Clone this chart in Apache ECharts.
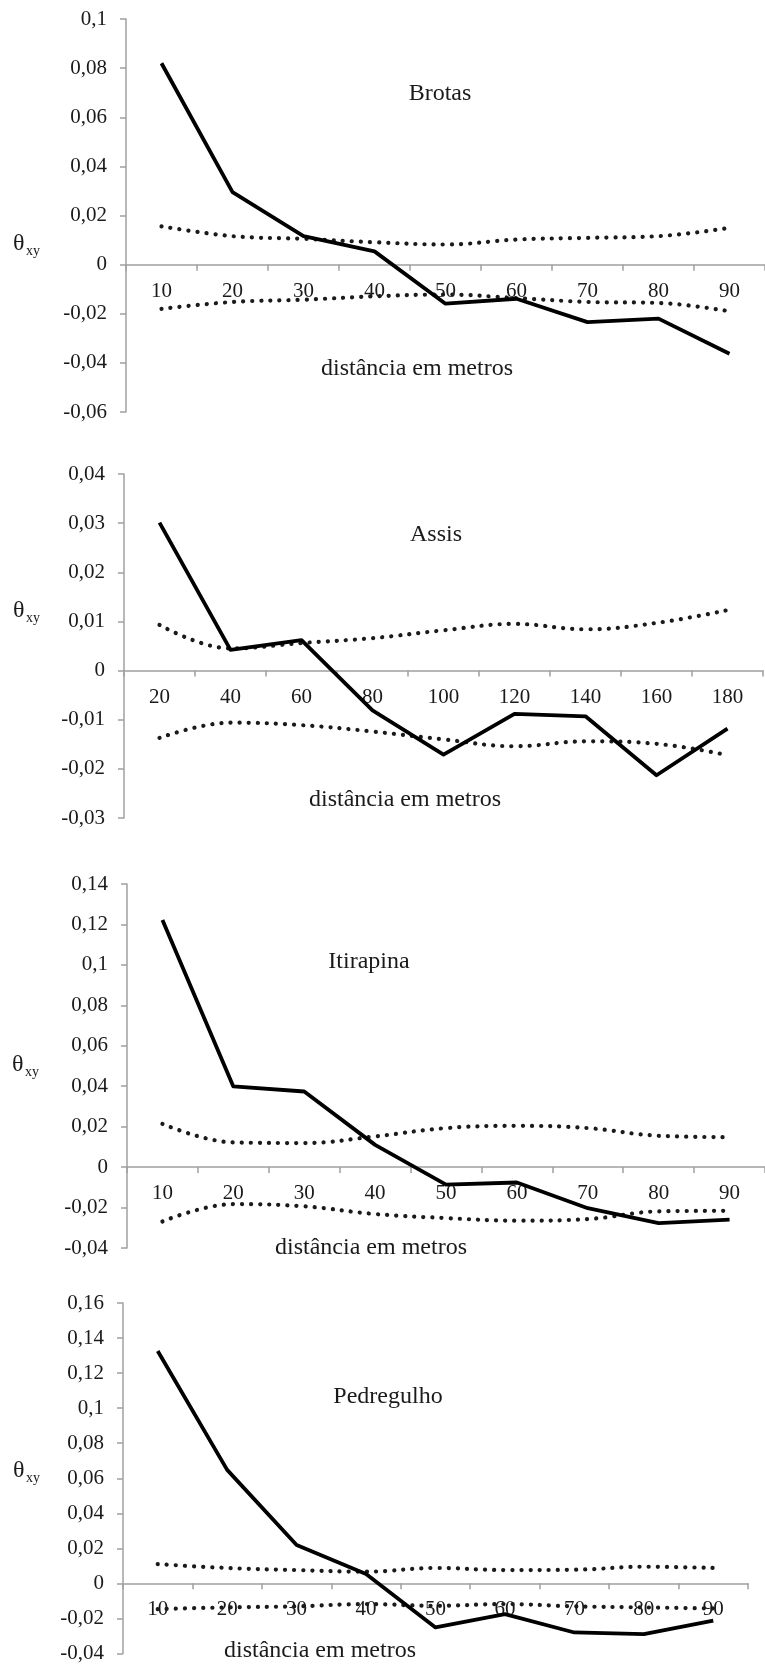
<!DOCTYPE html>
<html>
<head>
<meta charset="utf-8">
<script src="https://cdn.jsdelivr.net/npm/echarts@6/dist/echarts.min.js"></script>
<style>
  html, body { margin: 0; padding: 0; background: #fff; }
  #chart { width: 765px; height: 1664px; }
</style>
</head>
<body>
<div id="chart"></div>
<script>
// Distance classes (metres) for each site
const distBrotas = ['10', '20', '30', '40', '50', '60', '70', '80', '90'];
const distAssis = ['20', '40', '60', '80', '100', '120', '140', '160', '180'];
const distItirapina = ['10', '20', '30', '40', '50', '60', '70', '80', '90'];
const distPedregulho = ['10', '20', '30', '40', '50', '60', '70', '80', '90'];

// Kinship coefficient θxy per distance class, with upper / lower confidence limits
const thetaBrotas = [0.082, 0.0295, 0.0116, 0.0054, -0.0159, -0.0139, -0.0234, -0.0220, -0.0363];
const upperBrotas = [0.0156, 0.0116, 0.0105, 0.0091, 0.0082, 0.0102, 0.0109, 0.0116, 0.0150];
const lowerBrotas = [-0.0180, -0.0152, -0.0143, -0.0129, -0.0122, -0.0136, -0.0152, -0.0156, -0.0190];

const thetaAssis = [0.0301, 0.0042, 0.0062, -0.0081, -0.0171, -0.0088, -0.0093, -0.0213, -0.0118];
const upperAssis = [0.0093, 0.0045, 0.0056, 0.0066, 0.0082, 0.0095, 0.0084, 0.0097, 0.0123];
const lowerAssis = [-0.0137, -0.0106, -0.0111, -0.0124, -0.0140, -0.0154, -0.0144, -0.0149, -0.0172];

const thetaItirapina = [0.1222, 0.0399, 0.0374, 0.0110, -0.0087, -0.0076, -0.0203, -0.0277, -0.0260];
const upperItirapina = [0.0214, 0.0122, 0.0119, 0.0152, 0.0193, 0.0204, 0.0193, 0.0155, 0.0148];
const lowerItirapina = [-0.0269, -0.0183, -0.0194, -0.0232, -0.0252, -0.0265, -0.0257, -0.0219, -0.0216];

const thetaPedregulho = [0.1326, 0.0648, 0.0219, 0.0053, -0.0251, -0.0175, -0.0280, -0.0290, -0.0213];
const upperPedregulho = [0.0110, 0.0088, 0.0076, 0.0067, 0.0088, 0.0076, 0.0078, 0.0095, 0.0088];
const lowerPedregulho = [-0.0147, -0.0137, -0.0131, -0.0118, -0.0128, -0.0118, -0.0131, -0.0137, -0.0143];

// Value-axis ranges
const yMinBrotas = -0.06, yMaxBrotas = 0.1, yStepBrotas = 0.02;
const yMinAssis = -0.03, yMaxAssis = 0.04, yStepAssis = 0.01;
const yMinItirapina = -0.04, yMaxItirapina = 0.14, yStepItirapina = 0.02;
const yMinPedregulho = -0.04, yMaxPedregulho = 0.16, yStepPedregulho = 0.02;

const SERIF = '"Liberation Serif", "Times New Roman", serif';
const AXIS_GREY = '#a0a0a0';
const INK = '#1a1a1a';

const panels = [
  { name: 'Brotas', cats: distBrotas, theta: thetaBrotas, up: upperBrotas, lo: lowerBrotas,
    min: yMinBrotas, max: yMaxBrotas, step: yStepBrotas,
    grid: { left: 126, top: 19, width: 648, height: 393 },
    titleAt: [440, 94], xNameAt: [417, 369], symAt: [13, 246] },
  { name: 'Assis', cats: distAssis, theta: thetaAssis, up: upperAssis, lo: lowerAssis,
    min: yMinAssis, max: yMaxAssis, step: yStepAssis,
    grid: { left: 124, top: 474, width: 639, height: 344 },
    titleAt: [436, 535], xNameAt: [405, 800], symAt: [13, 613] },
  { name: 'Itirapina', cats: distItirapina, theta: thetaItirapina, up: upperItirapina, lo: lowerItirapina,
    min: yMinItirapina, max: yMaxItirapina, step: yStepItirapina,
    grid: { left: 127, top: 884, width: 643, height: 364 },
    titleAt: [369, 962], xNameAt: [371, 1248], symAt: [12, 1067] },
  { name: 'Pedregulho', cats: distPedregulho, theta: thetaPedregulho, up: upperPedregulho, lo: lowerPedregulho,
    min: yMinPedregulho, max: yMaxPedregulho, step: yStepPedregulho,
    grid: { left: 123, top: 1303, width: 625, height: 351 },
    titleAt: [388, 1397], xNameAt: [320, 1651], symAt: [13, 1473] }
];

function commaDecimal(v) {
  return String(+(+v).toFixed(3)).replace('.', ',');
}

function textEl(str, x, y, size, align) {
  return {
    type: 'text',
    x: x, y: y,
    style: {
      text: str,
      font: size + 'px ' + SERIF,
      fill: INK,
      align: align || 'center',
      verticalAlign: 'middle',
      textAlign: align || 'center',
      textVerticalAlign: 'middle'
    },
    z: 10
  };
}

const grids = [], xAxes = [], yAxes = [], series = [], graphics = [];

panels.forEach(function (p, i) {
  grids.push(Object.assign({ containLabel: false }, p.grid));

  // category axis crosses the value axis at zero: lift it from the grid bottom
  const zeroLift = p.grid.height * (0 - p.min) / (p.max - p.min);

  xAxes.push({
    type: 'category',
    gridIndex: i,
    data: p.cats,
    position: 'bottom',
    offset: -zeroLift,
    boundaryGap: true,
    axisLine: { onZero: false, lineStyle: { color: AXIS_GREY, width: 1.5 } },
    axisTick: { show: true, inside: false, length: 6, lineStyle: { color: AXIS_GREY, width: 1.5 } },
    axisLabel: { margin: 16, color: INK, fontFamily: SERIF, fontSize: 21, interval: 0 },
    splitLine: { show: false }
  });

  yAxes.push({
    type: 'value',
    gridIndex: i,
    min: p.min, max: p.max, interval: p.step,
    axisLine: { show: true, onZero: false, lineStyle: { color: AXIS_GREY, width: 1.5 } },
    axisTick: { show: true, inside: false, length: 6, lineStyle: { color: AXIS_GREY, width: 1.5 } },
    axisLabel: { margin: 19, color: INK, fontFamily: SERIF, fontSize: 21, formatter: commaDecimal },
    splitLine: { show: false }
  });

  const dotted = { color: INK, width: 4.2, type: [0.1, 9], cap: 'round' };
  series.push({
    type: 'line', name: p.name + ' limite superior', xAxisIndex: i, yAxisIndex: i,
    data: p.up, smooth: 0.4, symbol: 'none', lineStyle: dotted, z: 2, silent: true
  });
  series.push({
    type: 'line', name: p.name + ' limite inferior', xAxisIndex: i, yAxisIndex: i,
    data: p.lo, smooth: 0.4, symbol: 'none', lineStyle: dotted, z: 2, silent: true
  });
  series.push({
    type: 'line', name: p.name, xAxisIndex: i, yAxisIndex: i,
    data: p.theta, symbol: 'none', lineStyle: { color: '#000', width: 3.8, join: 'round' }, z: 3, silent: true
  });

  graphics.push(textEl(p.name, p.titleAt[0], p.titleAt[1], 24));
  graphics.push(textEl('distância em metros', p.xNameAt[0], p.xNameAt[1], 24));
  graphics.push(textEl('θ', p.symAt[0], p.symAt[1] - 2, 24, 'left'));
  graphics.push(textEl('xy', p.symAt[0] + 13, p.symAt[1] + 5, 14, 'left'));
});

const chart = echarts.init(document.getElementById('chart'), null, { renderer: 'canvas' });
chart.setOption({
  animation: false,
  backgroundColor: '#ffffff',
  grid: grids,
  xAxis: xAxes,
  yAxis: yAxes,
  series: series,
  graphic: graphics
});
</script>
</body>
</html>
